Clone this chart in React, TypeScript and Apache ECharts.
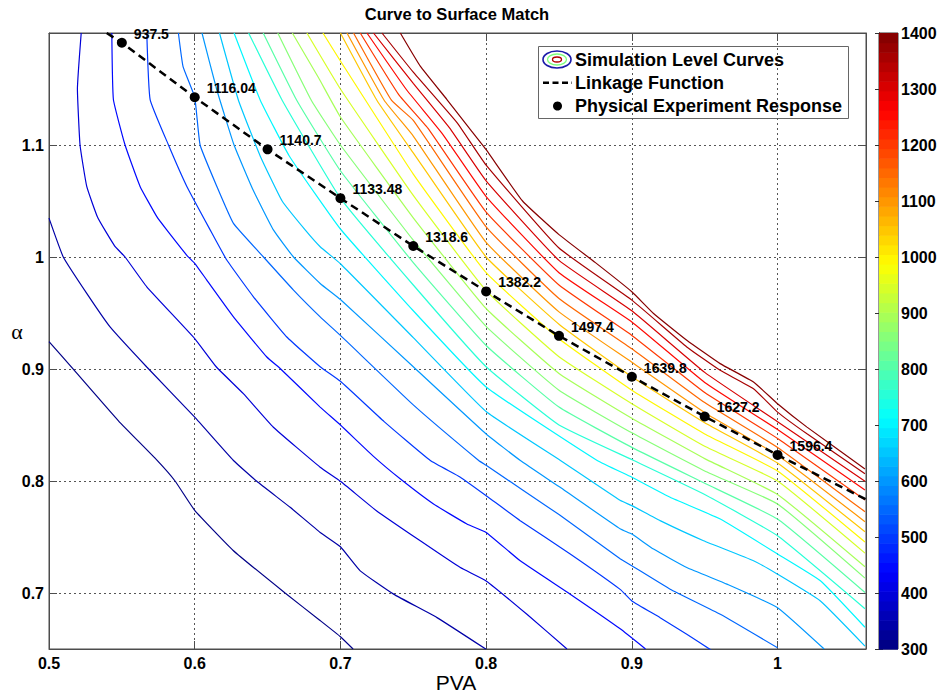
import React, { useEffect, useRef } from "react";
import * as echarts from "echarts";

// ---------- data ----------
const LEVELS = [300, 350, 400, 450, 500, 550, 600, 650, 700, 750, 800, 850, 900, 950, 1000, 1050, 1100, 1150, 1200, 1250, 1300, 1350, 1400];

const c300 = [[0.5, 0.9245], [0.5168, 0.8996], [0.5478, 0.8535], [0.5731, 0.8199], [0.5865, 0.8], [0.6, 0.7738], [0.6264, 0.738], [0.662, 0.7], [0.6858, 0.6757], [0.7, 0.661], [0.7087, 0.65]];
const c350 = [[0.5, 1.0347], [0.5098, 1.0], [0.5259, 0.9675], [0.5419, 0.9376], [0.5671, 0.9018], [0.6, 0.857], [0.6266, 0.8183], [0.6426, 0.7997], [0.6655, 0.7765], [0.6861, 0.7541], [0.7, 0.7413], [0.7136, 0.7198], [0.7365, 0.699], [0.7663, 0.678], [0.8, 0.6497]];
const c400 = [[0.5221, 1.2], [0.5195, 1.15], [0.5213, 1.1], [0.5259, 1.063], [0.5335, 1.035], [0.545, 1.01], [0.5522, 1.0], [0.5671, 0.9734], [0.6, 0.9272], [0.6149, 0.9018], [0.6334, 0.878], [0.654, 0.848], [0.6861, 0.8123], [0.7, 0.7997], [0.7247, 0.7735], [0.7548, 0.7466], [0.7823, 0.7227], [0.8, 0.7108], [0.828, 0.681], [0.8555, 0.65]];
const c450 = [[0.5431, 1.2], [0.5442, 1.1406], [0.5522, 1.1], [0.5625, 1.063], [0.574, 1.036], [0.5808, 1.0242], [0.5946, 1.0015], [0.6, 0.9944], [0.6083, 0.9794], [0.6266, 0.9466], [0.6495, 0.9107], [0.659, 0.9], [0.6861, 0.866], [0.7, 0.85], [0.7227, 0.822], [0.741, 0.802], [0.7639, 0.7795], [0.7868, 0.7616], [0.8, 0.7541], [0.8234, 0.7287], [0.8577, 0.6989], [0.892, 0.668], [0.9094, 0.65]];
const c500 = [[0.5671, 1.2], [0.5694, 1.1406], [0.582, 1.1], [0.5946, 1.063], [0.6106, 1.0242], [0.622, 0.9973], [0.6403, 0.9645], [0.6632, 0.9286], [0.6861, 0.902], [0.7, 0.889], [0.73, 0.853], [0.7617, 0.8183], [0.7823, 0.8034], [0.8, 0.7869], [0.8234, 0.7646], [0.8577, 0.7348], [0.8922, 0.703], [0.9, 0.6929], [0.9194, 0.678], [0.9377, 0.6631], [0.9544, 0.649]];
const c550 = [[0.5888, 1.2], [0.592, 1.17], [0.6, 1.1426], [0.6037, 1.1], [0.6152, 1.063], [0.6266, 1.03], [0.6472, 1.0], [0.6678, 0.9705], [0.6861, 0.9466], [0.7, 0.93], [0.75, 0.868], [0.7949, 0.8183], [0.8, 0.814], [0.85, 0.77], [0.8922, 0.7303], [0.9, 0.7243], [0.9263, 0.7034], [0.9607, 0.681], [1.0, 0.6511]];
const c600 = [[0.605, 1.2], [0.615, 1.15], [0.627, 1.1], [0.64, 1.06], [0.654, 1.0242], [0.6678, 1.0], [0.6861, 0.9764], [0.7, 0.962], [0.75, 0.902], [0.8, 0.842], [0.8235, 0.8183], [0.85, 0.795], [0.8922, 0.7571], [0.9, 0.7526], [0.9149, 0.7392], [0.9377, 0.7227], [0.9652, 0.7079], [1.0, 0.6869], [1.032, 0.65]];
const c650 = [[0.617, 1.2], [0.63, 1.14], [0.645, 1.09], [0.66, 1.05], [0.6758, 1.0242], [0.6861, 1.0092], [0.7, 0.994], [0.75, 0.928], [0.8, 0.862], [0.851, 0.8183], [0.8922, 0.7825], [0.9, 0.778], [0.9194, 0.7646], [0.9492, 0.7467], [0.9835, 0.7288], [1.0, 0.7168], [1.0294, 0.6929], [1.06, 0.6526]];
const c700 = [[0.627, 1.2], [0.645, 1.14], [0.665, 1.09], [0.7, 1.025], [0.75, 0.952], [0.8, 0.884], [0.8762, 0.8183], [0.9, 0.8034], [0.9263, 0.7855], [0.9607, 0.766], [1.0, 0.7348], [1.0294, 0.7109], [1.06, 0.6694]];
const c750 = [[0.637, 1.2], [0.66, 1.14], [0.7, 1.0525], [0.75, 0.975], [0.8, 0.902], [0.85, 0.85], [0.9013, 0.8183], [0.95, 0.788], [1.0, 0.7511], [1.06, 0.686]];
const c800 = [[0.647, 1.2], [0.67, 1.14], [0.7, 1.077], [0.75, 0.995], [0.8, 0.921], [0.85, 0.866], [0.9, 0.83], [0.95, 0.798], [1.0, 0.766], [1.06, 0.7004]];
const c850 = [[0.657, 1.2], [0.68, 1.14], [0.7, 1.1], [0.75, 1.015], [0.8, 0.938], [0.85, 0.881], [0.9, 0.843], [0.95, 0.809], [1.0, 0.7795], [1.06, 0.7133]];
const c900 = [[0.667, 1.2], [0.685, 1.16], [0.7, 1.125], [0.75, 1.035], [0.8, 0.954], [0.85, 0.896], [0.9, 0.856], [0.95, 0.82], [1.0, 0.788], [1.06, 0.7234]];
const c950 = [[0.677, 1.2], [0.7, 1.15], [0.75, 1.055], [0.8, 0.97], [0.85, 0.911], [0.9, 0.869], [0.95, 0.831], [1.0, 0.8], [1.06, 0.7356]];
const c1000 = [[0.688, 1.2], [0.7, 1.175], [0.75, 1.074], [0.8, 0.986], [0.85, 0.927], [0.9, 0.881], [0.95, 0.842], [1.0, 0.809], [1.06, 0.7455]];
const c1050 = [[0.7, 1.2], [0.725, 1.14], [0.75, 1.093], [0.8, 1.0], [0.85, 0.94], [0.9, 0.893], [0.95, 0.852], [1.0, 0.816], [1.06, 0.7547]];
const c1100 = [[0.7045, 1.2], [0.73, 1.14], [0.75, 1.108], [0.8, 1.013], [0.85, 0.951], [0.9, 0.906], [0.95, 0.861], [1.0, 0.823], [1.06, 0.7637]];
const c1150 = [[0.709, 1.2], [0.735, 1.14], [0.75, 1.122], [0.8, 1.027], [0.85, 0.963], [0.9, 0.918], [0.95, 0.87], [1.0, 0.83], [1.06, 0.7726]];
const c1200 = [[0.7136, 1.2], [0.74, 1.145], [0.76, 1.115], [0.8, 1.04], [0.85, 0.975], [0.9, 0.93], [0.95, 0.879], [1.0, 0.838], [1.06, 0.7831]];
const c1250 = [[0.7182, 1.2], [0.745, 1.15], [0.77, 1.11], [0.8, 1.054], [0.85, 0.986], [0.9, 0.942], [0.95, 0.888], [1.0, 0.846], [1.06, 0.792]];
const c1300 = [[0.7227, 1.2], [0.75, 1.155], [0.775, 1.115], [0.8, 1.068], [0.85, 0.997], [0.9, 0.952], [0.95, 0.897], [1.0, 0.853], [1.06, 0.7997]];
const c1350 = [[0.7285, 1.2], [0.75, 1.165], [0.78, 1.12], [0.8, 1.082], [0.85, 1.008], [0.9, 0.9615], [0.9377, 0.9197], [0.9606, 0.8988], [0.9835, 0.8824], [1.0, 0.8615], [1.0202, 0.8421], [1.06, 0.8064]];
const c1400 = [[0.7411, 1.2], [0.7548, 1.1704], [0.7731, 1.1406], [0.7892, 1.1137], [0.8, 1.0958], [0.825, 1.05], [0.85, 1.02], [0.875, 0.995], [0.9, 0.969], [0.9149, 0.9496], [0.9377, 0.9257], [0.9606, 0.9048], [0.9835, 0.8884], [1.0, 0.869], [1.0202, 0.8481], [1.06, 0.8108]];

const CONTOURS = [c300, c350, c400, c450, c500, c550, c600, c650, c700, c750, c800, c850, c900, c950, c1000, c1050, c1100, c1150, c1200, c1250, c1300, c1350, c1400];

const PVA = [0.55, 0.6, 0.65, 0.7, 0.75, 0.8, 0.85, 0.9, 0.95, 1.0];
const ALPHA = [1.1913, 1.1426, 1.0961, 1.0525, 1.0098, 0.9693, 0.9296, 0.8931, 0.8576, 0.8233];
const RESPONSE = ["937.5", "1116.04", "1140.7", "1133.48", "1318.6", "1382.2", "1497.4", "1639.8", "1627.2", "1596.4"];
const LINK_START = [0.5396, 1.2];
const LINK_END = [1.0607, 0.7836];

const X_RANGE = [0.5, 1.0607];
const Y_RANGE = [0.65, 1.2];
const C_RANGE = [300, 1400];
const TICK_STEP = 0.1;
const C_STEP = 100;
const N_COLORS = 64;

const FONT = "'Liberation Sans', Arial, Helvetica, sans-serif";

function jet(t: number) {
  const cl = (v: number) => Math.max(0, Math.min(1, v));
  const r = cl(1.5 - Math.abs(4 * t - 3));
  const g = cl(1.5 - Math.abs(4 * t - 2));
  const b = cl(1.5 - Math.abs(4 * t - 1));
  return `rgb(${Math.round(r * 255)},${Math.round(g * 255)},${Math.round(b * 255)})`;
}
function levelColor(v: number) {
  const t = (v - C_RANGE[0]) / (C_RANGE[1] - C_RANGE[0]);
  const idx = Math.min(N_COLORS - 1, Math.floor(t * N_COLORS));
  return jet((idx + 0.5) / N_COLORS);
}

function tickLabel(v: number) {
  const r = Math.round(v / TICK_STEP) * TICK_STEP;
  if (Math.abs(v - r) > 1e-6) return "";
  if (Math.abs(r - 1.2) < 1e-6) return "";
  if (Math.abs(r - 1) < 1e-6) return "1";
  return r.toFixed(1);
}

export default function App() {
  const ref = useRef<HTMLDivElement>(null);
  useEffect(() => {
    if (!ref.current) return;
    const chart = echarts.init(ref.current, undefined, { renderer: "svg" });

    const bandSize = (C_RANGE[1] - C_RANGE[0]) / N_COLORS;
    const bands = Array.from({ length: N_COLORS }, (_, i) => [0.5, C_RANGE[0] + i * bandSize, C_RANGE[0] + (i + 1) * bandSize]);
    const bandColors = bands.map((_, i) => jet((i + 0.5) / N_COLORS));

    const axisLabelStyle = { color: "#000", fontSize: 16, fontWeight: "bold", fontFamily: FONT };
    const axisLineStyle = { color: "#4d4d4d", width: 1 };

    const contourSeries = CONTOURS.map((path, i) => ({
      type: "line",
      name: "level" + LEVELS[i],
      xAxisIndex: 0,
      yAxisIndex: 0,
      data: path,
      showSymbol: false,
      symbol: "none",
      silent: true,
      clip: true,
      smooth: 0.12,
      z: 2,
      lineStyle: { color: levelColor(LEVELS[i]), width: 1.2 },
    }));

    const option: any = {
      animation: false,
      backgroundColor: "#fff",
      grid: [
        { left: 49, top: 33, width: 817, height: 616, show: true, borderColor: "#4d4d4d", borderWidth: 1, backgroundColor: "#fff" },
        { left: 879, top: 33, width: 19, height: 616, show: true, borderColor: "#333", borderWidth: 1 },
      ],
      xAxis: [
        {
          type: "value", gridIndex: 0, min: X_RANGE[0], max: X_RANGE[1], minInterval: TICK_STEP, maxInterval: TICK_STEP,
          position: "bottom",
          axisLine: { show: true, lineStyle: axisLineStyle },
          axisTick: { show: true, inside: true, length: 8, lineStyle: axisLineStyle },
          axisLabel: { ...axisLabelStyle, margin: 6, formatter: tickLabel, showMaxLabel: true },
          splitLine: { show: true, lineStyle: { color: "#555", width: 1, type: [2, 3] } },
        },
        {
          type: "value", gridIndex: 0, min: X_RANGE[0], max: X_RANGE[1], minInterval: TICK_STEP, maxInterval: TICK_STEP,
          position: "top",
          axisLine: { show: true, lineStyle: axisLineStyle },
          axisTick: { show: true, inside: true, length: 8, lineStyle: axisLineStyle },
          axisLabel: { show: false },
          splitLine: { show: false },
        },
        { type: "value", gridIndex: 1, min: 0, max: 1, show: false },
      ],
      yAxis: [
        {
          type: "value", gridIndex: 0, min: Y_RANGE[0], max: Y_RANGE[1], minInterval: TICK_STEP, maxInterval: TICK_STEP,
          position: "left",
          axisLine: { show: true, lineStyle: axisLineStyle },
          axisTick: { show: true, inside: true, length: 8, lineStyle: axisLineStyle },
          axisLabel: { ...axisLabelStyle, margin: 5, formatter: tickLabel },
          splitLine: { show: true, lineStyle: { color: "#555", width: 1, type: [2, 3] } },
        },
        {
          type: "value", gridIndex: 0, min: Y_RANGE[0], max: Y_RANGE[1], minInterval: TICK_STEP, maxInterval: TICK_STEP,
          position: "right",
          axisLine: { show: true, lineStyle: axisLineStyle },
          axisTick: { show: true, inside: true, length: 8, lineStyle: axisLineStyle },
          axisLabel: { show: false },
          splitLine: { show: false },
        },
        {
          type: "value", gridIndex: 1, min: C_RANGE[0], max: C_RANGE[1], interval: C_STEP,
          position: "right",
          axisLine: { show: true, lineStyle: { color: "#333" } },
          axisTick: { show: true, inside: true, length: 4, lineStyle: { color: "#333" } },
          axisLabel: { ...axisLabelStyle, margin: 3, formatter: (v: number) => String(Math.round(v)) },
          splitLine: { show: false },
        },
        {
          type: "value", gridIndex: 1, min: C_RANGE[0], max: C_RANGE[1], interval: C_STEP,
          position: "left",
          axisLine: { show: true, lineStyle: { color: "#333" } },
          axisTick: { show: true, inside: true, length: 4, lineStyle: { color: "#333" } },
          axisLabel: { show: false },
          splitLine: { show: false },
        },
      ],
      series: [
        ...contourSeries,
        {
          type: "line",
          name: "Linkage Function",
          xAxisIndex: 0,
          yAxisIndex: 0,
          data: [LINK_START, ...PVA.map((x, i) => [x, ALPHA[i]]), LINK_END],
          showSymbol: false,
          symbol: "none",
          silent: true,
          z: 3,
          lineStyle: { color: "#000", width: 2.5, type: [8, 5] },
        },
        {
          type: "scatter",
          name: "Physical Experiment Response",
          xAxisIndex: 0,
          yAxisIndex: 0,
          symbol: "circle",
          symbolSize: 10,
          z: 4,
          silent: true,
          itemStyle: { color: "#000", opacity: 1 },
          data: PVA.map((x, i) => ({ value: [x, ALPHA[i]], name: RESPONSE[i] })),
          label: {
            show: true,
            position: "right",
            distance: 7,
            offset: [0, -9],
            formatter: (p: any) => p.name,
            color: "#000",
            opacity: 1,
            fontSize: 14,
            fontWeight: "bold",
            fontFamily: FONT,
          },
        },
        {
          type: "custom",
          name: "colorbar",
          xAxisIndex: 2,
          yAxisIndex: 2,
          silent: true,
          data: bands,
          encode: { x: 0, y: [1, 2] },
          renderItem: (params: any, api: any) => {
            const lo = api.value(1);
            const hi = api.value(2);
            const p0 = api.coord([0, hi]);
            const p1 = api.coord([1, lo]);
            return {
              type: "rect",
              shape: { x: p0[0], y: p0[1], width: p1[0] - p0[0], height: p1[1] - p0[1] + 0.6 },
              style: { fill: bandColors[params.dataIndex] },
            };
          },
        },
      ],
      graphic: [
        { type: "text", x: 457, y: 14, style: { text: "Curve to Surface Match", fontSize: 16.5, fontWeight: "bold", fontFamily: FONT, fill: "#000", textAlign: "center", textVerticalAlign: "middle" } },
        { type: "text", x: 456, y: 682, style: { text: "PVA", fontSize: 21, fontFamily: FONT, fill: "#000", textAlign: "center", textVerticalAlign: "middle" } },
        { type: "text", x: 17, y: 331, style: { text: "α", fontSize: 22, fontFamily: "'Liberation Serif', 'DejaVu Serif', serif", fill: "#000", textAlign: "center", textVerticalAlign: "middle" } },
        {
          type: "group",
          children: [
            { type: "rect", shape: { x: 538.5, y: 46.5, width: 310, height: 72 }, style: { fill: "#fff", stroke: "#666", lineWidth: 1 } },
            { type: "ellipse", shape: { cx: 557, cy: 59.5, rx: 14, ry: 8.5 }, style: { fill: "none", stroke: "#1a1aa8", lineWidth: 1.6 } },
            { type: "ellipse", shape: { cx: 557, cy: 59.5, rx: 9.5, ry: 5.5 }, style: { fill: "none", stroke: "#7dff7d", lineWidth: 1.3 } },
            { type: "ellipse", shape: { cx: 557, cy: 59.5, rx: 4.5, ry: 2.5 }, style: { fill: "none", stroke: "#b00000", lineWidth: 1.3 } },
            { type: "line", shape: { x1: 543, y1: 82.7, x2: 572, y2: 82.7 }, style: { stroke: "#000", lineWidth: 2.5, lineDash: [6, 3.5] } },
            { type: "circle", shape: { cx: 557.5, cy: 106, r: 4.5 }, style: { fill: "#000" } },
            { type: "text", x: 575, y: 60, style: { text: "Simulation Level Curves", fontSize: 18, fontWeight: "bold", fontFamily: FONT, fill: "#000", textVerticalAlign: "middle" } },
            { type: "text", x: 575, y: 83, style: { text: "Linkage Function", fontSize: 18, fontWeight: "bold", fontFamily: FONT, fill: "#000", textVerticalAlign: "middle" } },
            { type: "text", x: 575, y: 106, style: { text: "Physical Experiment Response", fontSize: 18, fontWeight: "bold", fontFamily: FONT, fill: "#000", textVerticalAlign: "middle" } },
          ],
        },
      ],
    };

    chart.setOption(option);
    return () => chart.dispose();
  }, []);

  return <div ref={ref} style={{ position: "absolute", left: 0, top: 0, width: 943, height: 696, background: "#fff" }} />;
}
